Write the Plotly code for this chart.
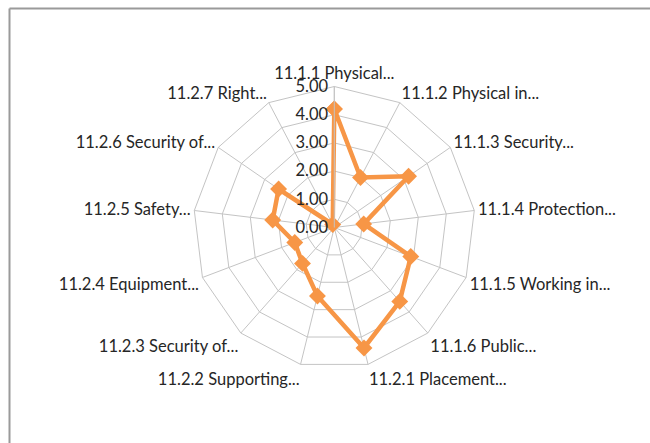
import plotly.graph_objects as go

categories = [
    "11.1.1 Physical...", "11.1.2 Physical in...", "11.1.3 Security...",
    "11.1.4 Protection...", "11.1.5 Working in...", "11.1.6 Public...",
    "11.2.1 Placement...", "11.2.2 Supporting...", "11.2.3 Security of...",
    "11.2.4 Equipment...", "11.2.5 Safety...", "11.2.6 Security of...",
    "11.2.7 Right...",
]
values = [4.2, 2.0, 3.2, 1.05, 2.9, 3.5, 4.4, 2.5, 1.7, 1.5, 2.2, 2.4, 0.12]
radial_ticks = [0, 1, 2, 3, 4, 5]

W, H = 650, 443
cx, cy, R = 334.3, 227.5, 141

ORANGE = "#F79646"
GRID = "#C4C4C4"
TEXT = "#262626"
FONT = "Lato, Roboto, sans-serif"
FS = 16.5

fig = go.Figure()
fig.add_trace(go.Scatterpolar(
    r=values + values[:1],
    theta=categories + categories[:1],
    mode="lines+markers",
    line=dict(color=ORANGE, width=4.5),
    marker=dict(symbol="diamond", size=13, color=ORANGE),
    cliponaxis=False,
    showlegend=False,
    hoverinfo="skip",
))

fig.update_layout(
    width=W, height=H, autosize=False,
    margin=dict(l=0, r=0, t=0, b=0),
    paper_bgcolor="white",
    plot_bgcolor="white",
    font=dict(family=FONT, size=FS, color=TEXT),
    polar=dict(
        domain=dict(x=[(cx - R) / W, (cx + R) / W], y=[1 - (cy + R) / H, 1 - (cy - R) / H]),
        bgcolor="white",
        gridshape="linear",
        angularaxis=dict(
            direction="clockwise", rotation=90,
            categoryorder="array", categoryarray=categories,
            showline=True, linecolor=GRID, linewidth=1,
            gridcolor=GRID, gridwidth=1,
            ticks="", tickfont=dict(family=FONT, size=FS, color=TEXT),
        ),
        radialaxis=dict(
            range=[0, 5], tickvals=radial_ticks, tickformat=".2f",
            angle=90, tickangle=90, side="counterclockwise",
            showline=True, linecolor=GRID, linewidth=1,
            gridcolor=GRID, gridwidth=1,
            ticks="", tickfont=dict(family=FONT, size=FS, color=TEXT),
        ),
    ),
    shapes=[
        dict(type="line", xref="paper", yref="paper", x0=9.5 / W, x1=1.0, y0=1 - 8.5 / H, y1=1 - 8.5 / H,
             line=dict(color="#9A9A9A", width=2)),
        dict(type="line", xref="paper", yref="paper", x0=9.5 / W, x1=9.5 / W, y0=0, y1=1 - 8.5 / H,
             line=dict(color="#9A9A9A", width=2)),
    ],
)

fig.write_html("out.html", config={"displayModeBar": False},
               post_script="document.body.style.margin='0px';")
